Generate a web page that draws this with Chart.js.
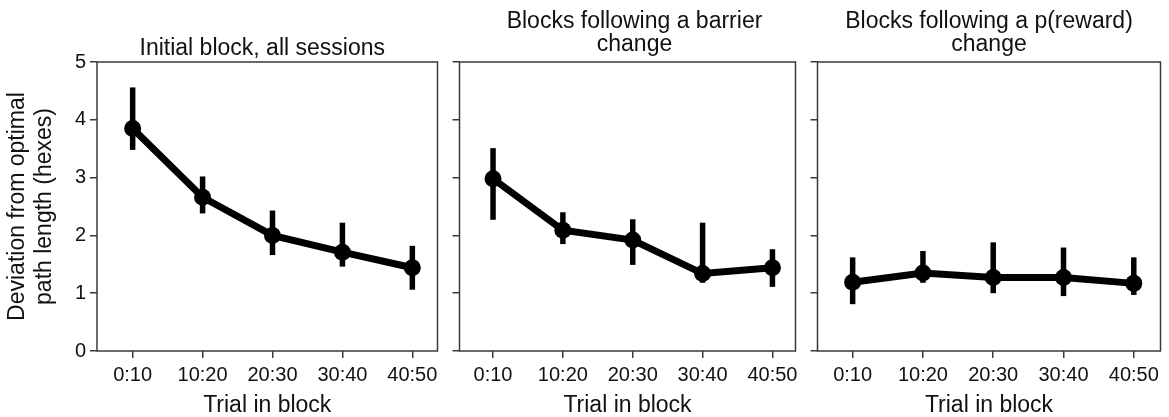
<!DOCTYPE html>
<html>
<head>
<meta charset="utf-8">
<script src="https://cdn.jsdelivr.net/npm/chart.js@4.4.0/dist/chart.umd.min.js"></script>
<style>
  html, body { margin: 0; padding: 0; background: #fff; overflow: hidden; }
  body { width: 1169px; height: 417px; position: relative; }
  canvas { position: absolute; top: 0; }
</style>
</head>
<body>
<canvas id="c1" width="446" height="440" style="left:0px"></canvas>
<canvas id="c2" width="358" height="440" style="left:446px"></canvas>
<canvas id="c3" width="365" height="440" style="left:804px"></canvas>
<script>
// Data (mean and error bar ends)
const trialBins = ['0:10', '10:20', '20:30', '30:40', '40:50'];
const yTicks = [0, 1, 2, 3, 4, 5];

const initialMean = [3.85, 2.66, 2.00, 1.71, 1.44];
const initialLow  = [3.48, 2.38, 1.66, 1.46, 1.06];
const initialHigh = [4.56, 3.02, 2.43, 2.22, 1.82];

const barrierMean = [2.98, 2.09, 1.92, 1.34, 1.44];
const barrierLow  = [2.27, 1.85, 1.49, 1.18, 1.11];
const barrierHigh = [3.51, 2.40, 2.28, 2.22, 1.76];

const rewardMean = [1.19, 1.35, 1.27, 1.27, 1.17];
const rewardLow  = [0.81, 1.18, 1.00, 0.95, 0.97];
const rewardHigh = [1.62, 1.73, 1.88, 1.79, 1.62];

const FONT = '"Liberation Sans", Arial, Helvetica, sans-serif';
const TEXT = '#111';
const SPINE = '#3a3a3a';

Chart.defaults.font.family = FONT;
Chart.defaults.color = TEXT;

// vertical error bars from dataset.errLow / dataset.errHigh
const errorBars = {
  id: 'errorBars',
  afterDatasetsDraw(chart) {
    const { ctx, scales: { x, y } } = chart;
    chart.data.datasets.forEach(ds => {
      ctx.save();
      ctx.strokeStyle = '#000';
      ctx.lineWidth = 5.5;
      ds.errLow.forEach((lo, i) => {
        const px = x.getPixelForValue(i);
        ctx.beginPath();
        ctx.moveTo(px, y.getPixelForValue(lo));
        ctx.lineTo(px, y.getPixelForValue(ds.errHigh[i]));
        ctx.stroke();
      });
      ctx.restore();
    });
  }
};

// box around plot + title lines
const frame = {
  id: 'frame',
  afterDraw(chart, args, opts) {
    const { ctx, chartArea: a } = chart;
    ctx.save();
    ctx.strokeStyle = SPINE;
    ctx.lineWidth = 1.5;
    ctx.strokeRect(a.left, a.top, a.right - a.left, a.bottom - a.top);
    ctx.font = '23px ' + FONT;
    ctx.fillStyle = TEXT;
    ctx.textAlign = 'center';
    ctx.textBaseline = 'alphabetic';
    const cx = (a.left + a.right) / 2 + opts.dx;
    opts.lines.forEach((t, i) => ctx.fillText(t, cx, opts.baseline + i * 23));
    ctx.restore();
  }
};

function makePanel(id, mean, low, high, cfg) {
  new Chart(document.getElementById(id), {
    type: 'line',
    data: {
      datasets: [{
        data: mean.map((v, i) => ({ x: i, y: v })),
        errLow: low,
        errHigh: high,
        borderColor: '#000',
        backgroundColor: '#000',
        borderWidth: 7,
        pointRadius: 8.5,
        pointHoverRadius: 8.5,
        pointBorderWidth: 0,
        tension: 0
      }]
    },
    options: {
      responsive: false,
      animation: false,
      events: [],
      layout: { padding: { top: 62, right: cfg.padRight, left: 0, bottom: 0 } },
      plugins: {
        legend: { display: false },
        tooltip: { enabled: false },
        frame: { lines: cfg.title, baseline: cfg.baseline, dx: cfg.dx }
      },
      scales: {
        x: {
          type: 'linear',
          min: cfg.xMin,
          max: cfg.xMax,
          afterBuildTicks: s => { s.ticks = trialBins.map((_, i) => ({ value: i })); },
          ticks: {
            callback: v => trialBins[v],
            font: { size: 20 },
            color: TEXT,
            padding: 5,
            maxRotation: 0,
            autoSkip: false
          },
          grid: { drawOnChartArea: false, drawTicks: true, tickLength: 7, color: SPINE, lineWidth: 1.5 },
          border: { display: false },
          title: {
            display: true,
            text: 'Trial in block',
            font: { size: 23 },
            color: TEXT,
            padding: { top: 0, bottom: 21 }
          },
          afterFit: s => { s.height = 89; }
        },
        y: {
          min: 0,
          max: 5,
          afterBuildTicks: s => { s.ticks = yTicks.map(v => ({ value: v })); },
          ticks: {
            display: cfg.showY,
            font: { size: 20 },
            color: TEXT,
            padding: 4
          },
          grid: { drawOnChartArea: false, drawTicks: true, tickLength: 7, color: SPINE, lineWidth: 1.5 },
          border: { display: false },
          title: {
            display: cfg.showY,
            text: ['Deviation from optimal', 'path length (hexes)'],
            font: { size: 23, lineHeight: 1.18 },
            color: TEXT,
            padding: { top: 4, bottom: 0 }
          },
          afterFit: s => { s.width = cfg.yWidth; }
        }
      }
    },
    plugins: [errorBars, frame]
  });
}

makePanel('c1', initialMean, initialLow, initialHigh, {
  title: ['Initial block, all sessions'], baseline: 54.5, dx: -5,
  xMin: -0.51, xMax: 4.36, yWidth: 97, padRight: 6.5, showY: true
});
makePanel('c2', barrierMean, barrierLow, barrierHigh, {
  title: ['Blocks following a barrier', 'change'], baseline: 27.7, dx: 7,
  xMin: -0.48, xMax: 4.33, yWidth: 13.5, padRight: 5, showY: false
});
makePanel('c3', rewardMean, rewardLow, rewardHigh, {
  title: ['Blocks following a p(reward)', 'change'], baseline: 27.7, dx: 0,
  xMin: -0.5, xMax: 4.38, yWidth: 13.5, padRight: 5, showY: false
});
</script>
</body>
</html>
